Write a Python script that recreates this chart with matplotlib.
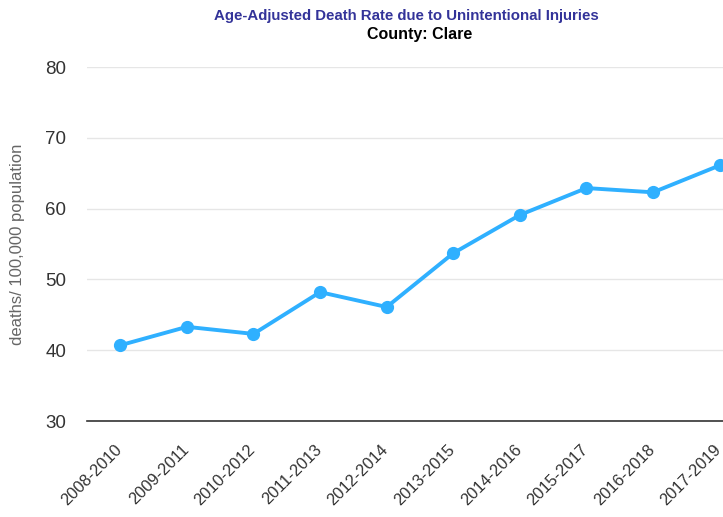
import matplotlib
matplotlib.use("Agg")
import matplotlib.pyplot as plt
from matplotlib.transforms import ScaledTranslation

periods = ["2008-2010", "2009-2011", "2010-2012", "2011-2013", "2012-2014",
           "2013-2015", "2014-2016", "2015-2017", "2016-2018", "2017-2019"]
rates = [40.7, 43.3, 42.3, 48.2, 46.1, 53.7, 59.1, 62.9, 62.3, 66.1]
y_ticks = [30, 40, 50, 60, 70, 80]

plt.rcParams['font.family'] = ['Liberation Sans', 'DejaVu Sans']

fig = plt.figure(figsize=(7.23, 5.17), dpi=100)
ax = fig.add_axes([87/723, (517-421)/517, 1 - 87/723, (421-67)/517])

x = list(range(len(periods)))
ax.plot(x, rates, color='#2fb0ff', linewidth=2.8, marker='o', markersize=8.5,
        clip_on=False, zorder=3)

ax.set_ylim(30, 80)
ax.set_xlim(-0.5, 9.05)
ax.set_yticks(y_ticks)
ax.set_yticklabels([str(v) for v in y_ticks], fontsize=13.5, color='#333333')
ax.set_xticks(x)
ax.set_xticklabels(periods, rotation=45, ha='right', rotation_mode='anchor',
                   fontsize=11.8, color='#333333')
ax.tick_params(axis='x', length=0, pad=8)
ax.tick_params(axis='y', length=0, pad=15)
shift = ScaledTranslation(-6/100, -10/100, fig.dpi_scale_trans)
for lab in ax.get_xticklabels():
    lab.set_transform(lab.get_transform() + shift)

ax.grid(axis='y', color='#e6e6e6', linewidth=1)
ax.set_axisbelow(True)
for s in ['top', 'right', 'left']:
    ax.spines[s].set_visible(False)
ax.spines['bottom'].set_color('#333333')
ax.spines['bottom'].set_linewidth(1.2)

ax.set_ylabel('deaths/ 100,000 population', fontsize=12, color='#666666')
ax.yaxis.set_label_coords((25 - 87)/636, 0.5)

fig.text(406/723, 1 - 16/517, 'Age-Adjusted Death Rate due to Unintentional Injuries',
         ha='center', va='center', fontsize=10.8, fontweight='bold', color='#333399')
fig.text(420/723, 1 - 34/517, 'County: Clare', ha='center', va='center',
         fontsize=11.5, fontweight='bold', color='#000000')

fig.savefig('out.png', dpi=100)
